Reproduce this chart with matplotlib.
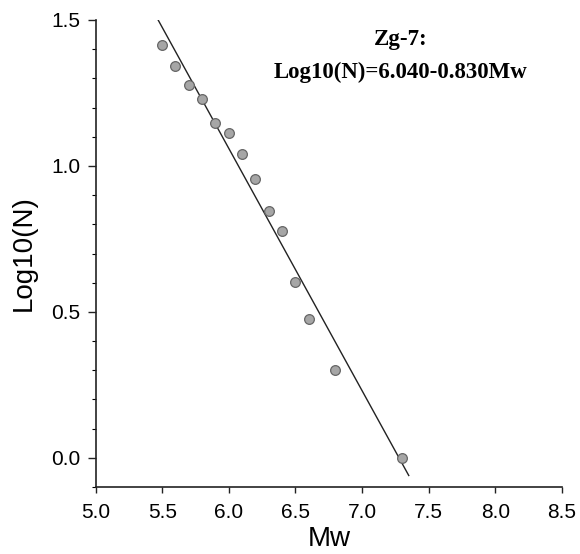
import matplotlib
matplotlib.use("Agg")
import matplotlib.pyplot as plt
from matplotlib.ticker import MultipleLocator

mw = [5.5, 5.6, 5.7, 5.8, 5.9, 6.0, 6.1, 6.2, 6.3, 6.4, 6.5, 6.6, 6.8, 7.3]
logn = [1.415, 1.342, 1.279, 1.230, 1.146, 1.114, 1.041, 0.954, 0.845, 0.778,
        0.602, 0.477, 0.301, 0.0]
fit_a = 6.040
fit_b = 0.830
fit_x = [5.468, 7.35]
xticks = [5.0, 5.5, 6.0, 6.5, 7.0, 7.5, 8.0, 8.5]
yticks = [0.0, 0.5, 1.0, 1.5]

plt.rcParams['font.family'] = ['Liberation Sans', 'DejaVu Sans']
fig = plt.figure(figsize=(5.8, 5.54), dpi=100)
ax = fig.add_axes([0.1647, 0.1209, 0.969 - 0.1647, 0.9639 - 0.1209])

fit_y = [fit_a - fit_b * x for x in fit_x]
ax.plot(fit_x, fit_y, color='#222222', lw=1.0, zorder=2)
ax.plot(mw, logn, 'o', ms=7, mfc='#a6a6a6', mec='#666666', mew=0.9, zorder=3)

ax.set_xlim(5.0, 8.5)
ax.set_ylim(-0.1, 1.5)
ax.set_xticks(xticks)
ax.set_yticks(yticks)
ax.set_xticklabels([f"{t:.1f}" for t in xticks])
ax.set_yticklabels([f"{t:.1f}" for t in yticks])
ax.yaxis.set_minor_locator(MultipleLocator(0.1))
ax.tick_params(axis='both', which='major', labelsize=15, width=1.0, color='#222222')
ax.tick_params(axis='y', which='major', length=6, pad=5)
ax.tick_params(axis='x', which='major', length=4.5, pad=7)
ax.tick_params(axis='y', which='minor', length=3, width=0.8)
for s in ['top', 'right']:
    ax.spines[s].set_visible(False)
for s in ['left', 'bottom']:
    ax.spines[s].set_linewidth(1.2)
    ax.spines[s].set_color('#222222')

ax.set_xlabel('Mw', fontsize=20, labelpad=3)
ax.set_ylabel('Log10(N)', fontsize=20, labelpad=10)

fig.text(401 / 580, 1 - 40 / 554, 'Zg-7:', family='Liberation Serif',
         fontweight='bold', fontsize=16.5, ha='center', va='center')
fig.text(401 / 580, 1 - 72 / 554, f'Log10(N)={fit_a:.3f}-{fit_b:.3f}Mw',
         family='Liberation Serif', fontweight='bold', fontsize=16.5,
         ha='center', va='center')

fig.savefig('out.png', dpi=100)
